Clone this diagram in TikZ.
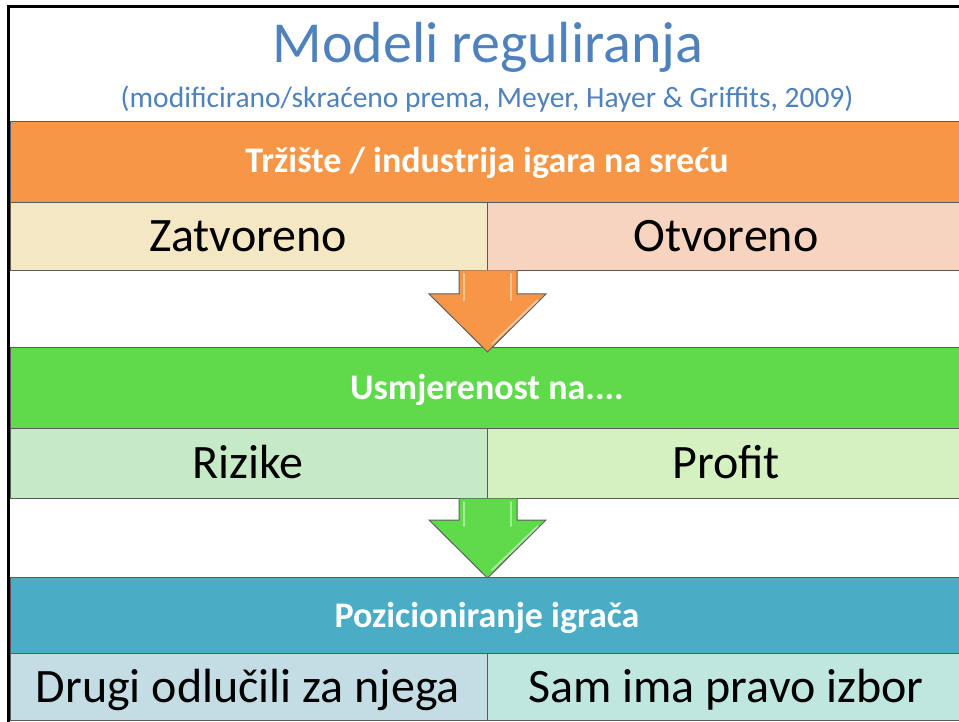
\documentclass[tikz,border=0pt]{standalone}
\usepackage{fontspec}
\setmainfont{Carlito}
\definecolor{titleblue}{HTML}{4F81BD}
\definecolor{orangeband}{HTML}{F79646}
\definecolor{tancell}{HTML}{F4E7C3}
\definecolor{peachcell}{HTML}{F7D4C0}
\definecolor{greenband}{HTML}{5FDA4B}
\definecolor{lgreenA}{HTML}{C6EAC8}
\definecolor{lgreenB}{HTML}{D6F1C1}
\definecolor{blueband}{HTML}{4BACC6}
\definecolor{lblueA}{HTML}{C4DCE4}
\definecolor{lblueB}{HTML}{C0E7DF}
\definecolor{edgegray}{HTML}{5A5A5A}
\tikzset{
  band/.style={draw=edgegray, line width=0.8pt},
  cell/.style={draw=edgegray, line width=0.8pt},
  bandtext/.style={anchor=base, text=white, font=\fontsize{36}{42}\selectfont\bfseries, inner sep=0pt},
  celltext/.style={anchor=base, text=black, font=\fontsize{48}{54}\selectfont, inner sep=0pt},
  blockarrow/.style={draw=gray!75!black, line width=1pt, line join=miter},
  highlight/.style={draw=white, opacity=0.45, line width=2pt, line cap=round},
}
\begin{document}
\begin{tikzpicture}[x=1pt,y=-1pt]
\useasboundingbox (0,0) rectangle (959,722);
\fill[white] (0,0) rectangle (959,722);
% frame
\draw[black, line width=3pt] (8.5,722) -- (8.5,6.5) -- (959,6.5);
% title
\node[anchor=base, text=titleblue, font=\fontsize{58}{62}\selectfont, inner sep=0pt] (title) at (488,63) {Modeli reguliranja};
\node[anchor=base, text=titleblue, font=\fontsize{29.5}{33}\selectfont, inner sep=0pt] (subtitle) at (487,108) {(modificirano/skraćeno prema, Meyer, Hayer \& Griffits, 2009)};
% band 1
\filldraw[band, fill=orangeband] (10,121.5) rectangle (962,202);
\node[bandtext] (b1) at (487,173) {Tržište / industrija igara na sreću};
\filldraw[cell, fill=tancell] (10,202) rectangle (487,270);
\filldraw[cell, fill=peachcell] (487,202) rectangle (962,270);
\node[celltext] (c1l) at (248,252) {Zatvoreno};
\node[celltext] (c1r) at (726,252) {Otvoreno};
% band 2
\filldraw[band, fill=greenband] (10,347.5) rectangle (962,428);
\node[bandtext] (b2) at (487,399) {Usmjerenost na....};
\filldraw[cell, fill=lgreenA] (10,428) rectangle (487,498);
\filldraw[cell, fill=lgreenB] (487,428) rectangle (962,498);
\node[celltext] (c2l) at (248,478) {Rizike};
\node[celltext] (c2r) at (726,478) {Profit};
% band 3
\filldraw[band, fill=blueband] (10,577) rectangle (962,653);
\node[bandtext] (b3) at (487,627) {Pozicioniranje igrača};
\filldraw[cell, fill=lblueA] (10,653) rectangle (487,720);
\filldraw[cell, fill=lblueB] (487,653) rectangle (962,720);
\node[celltext] (c3l) at (248,702) {Drugi odlučili za njega};
\node[celltext] (c3r) at (726,702) {Sam ima pravo izbor};
% block arrows (on top, tip overlapping next band)
\filldraw[blockarrow, fill=orangeband] (459,270.5) -- (459,294) -- (429,294) -- (487.5,352) -- (546,294) -- (517,294) -- (517,270.5);
\draw[highlight] (464,274) -- (464,300);
\draw[highlight] (511,274) -- (511,300);
\draw[highlight] (538,300) -- (492,344);
\filldraw[blockarrow, fill=greenband] (459,498.5) -- (459,520) -- (429,520) -- (487.5,578) -- (546,520) -- (517,520) -- (517,498.5);
\draw[highlight] (464,502) -- (464,526);
\draw[highlight] (511,502) -- (511,526);
\draw[highlight] (538,526) -- (492,570);
\end{tikzpicture}
\end{document}
